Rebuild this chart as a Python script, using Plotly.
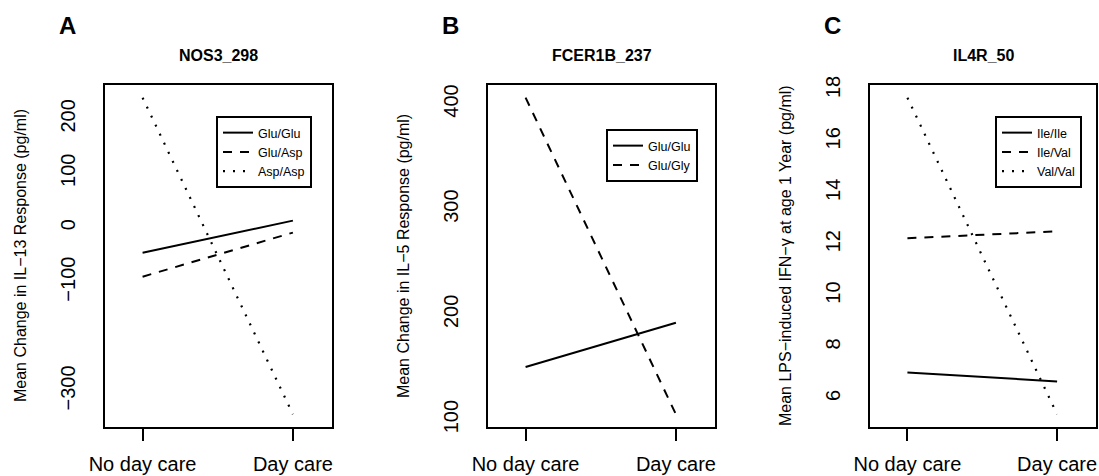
import plotly.graph_objects as go

# ---------------- data ----------------
categories = ["No day care", "Day care"]
x_pos = [1, 2]

a_title = "NOS3_298"
a_names = ["Glu/Glu", "Glu/Asp", "Asp/Asp"]
a_glu_glu = [-46, 13]
a_glu_asp = [-90, -9]
a_asp_asp = [239, -343]
a_ticks = [-300, -100, 0, 100, 200]
a_ylabel = "Mean Change in IL\u221213 Response (pg/ml)"

b_title = "FCER1B_237"
b_names = ["Glu/Glu", "Glu/Gly"]
b_glu_glu = [150, 192]
b_glu_gly = [406, 105]
b_ticks = [100, 200, 300, 400]
b_ylabel = "Mean Change in IL\u22125 Response (pg/ml)"

c_title = "IL4R_50"
c_names = ["Ile/Ile", "Ile/Val", "Val/Val"]
c_ile_ile = [7.01, 6.66]
c_ile_val = [12.23, 12.5]
c_val_val = [17.7, 5.38]
c_ticks = [6, 8, 10, 12, 14, 16, 18]
c_ylabel = "Mean LPS\u2212induced IFN\u2212\u03b3 at age 1 Year (pg/ml)"

letters = ["A", "B", "C"]

# ---------------- layout helpers ----------------
W, H = 1099, 476
FONT = "Liberation Sans, Arial, Helvetica, sans-serif"
boxes = [(105, 332), (488, 715), (870, 1096)]
top_px, bot_px = 85, 427
ydom = [1 - bot_px / H, 1 - top_px / H]

DASHES = ["solid", "9px,8px", "2px,8px"]

fig = go.Figure()

panels = [
    (a_title, a_names, [a_glu_glu, a_glu_asp, a_asp_asp], a_ticks, a_ylabel),
    (b_title, b_names, [b_glu_glu, b_glu_gly], b_ticks, b_ylabel),
    (c_title, c_names, [c_ile_ile, c_ile_val, c_val_val], c_ticks, c_ylabel),
]
legend_pos = [(216, 116), (606, 129), (995, 116)]

for i, (title, names, series, ticks, ylabel) in enumerate(panels):
    k = "" if i == 0 else str(i + 1)
    leg = "legend" if i == 0 else f"legend{i + 1}"
    allv = [v for s in series for v in s]
    lo, hi = min(allv), max(allv)
    span = hi - lo
    for j, (name, vals) in enumerate(zip(names, series)):
        fig.add_trace(go.Scatter(
            x=x_pos, y=vals, mode="lines", name=name,
            line=dict(color="black", width=2.2 if j == 2 else 2, dash=DASHES[j]),
            xaxis="x" + k, yaxis="y" + k, legend=leg, showlegend=True,
        ))
    x0, x1 = boxes[i]
    fig.layout["xaxis" + k] = dict(
        domain=[x0 / W, x1 / W], anchor="y" + k, range=[0.75, 2.26],
        tickvals=x_pos, ticktext=categories, ticks="outside", ticklen=12,
        tickwidth=2, tickcolor="black", showline=True, linecolor="black",
        linewidth=2, mirror=True, showgrid=False, zeroline=False,
        tickfont=dict(family=FONT, size=20, color="black"),
        ticklabelstandoff=6, automargin=False, fixedrange=True,
    )
    fig.layout["yaxis" + k] = dict(
        domain=ydom, anchor="x" + k, range=[lo - 0.04 * span, hi + 0.04 * span],
        tickvals=ticks, ticks="", showline=True, linecolor="black",
        linewidth=2, mirror=True, showgrid=False, zeroline=False,
        tickangle=-90, tickfont=dict(family=FONT, size=20, color="black"),
        ticklabelstandoff=20, automargin=False, fixedrange=True,
    )
    lx, ly = legend_pos[i]
    fig.layout[leg] = dict(
        x=lx / W, y=1 - ly / H, xanchor="left", yanchor="top",
        xref="paper", yref="paper",
        bordercolor="black", borderwidth=2, bgcolor="white",
        font=dict(family=FONT, size=12.5, color="black"),
        tracegroupgap=0, itemwidth=30,
    )
    cx = (x0 + x1) / 2
    fig.add_annotation(text=f"<b>{title}</b>", x=cx / W, y=1 - 55 / H,
                       xref="paper", yref="paper", showarrow=False,
                       xanchor="center", yanchor="middle",
                       font=dict(family=FONT, size=16, color="black"))
    fig.add_annotation(text=f"<b>{letters[i]}</b>", x=(x0 - 38) / W, y=1 - 25 / H,
                       xref="paper", yref="paper", showarrow=False,
                       xanchor="center", yanchor="middle",
                       font=dict(family=FONT, size=24, color="black"))
    fig.add_annotation(text=ylabel, x=(x0 - 85) / W, y=(ydom[0] + ydom[1]) / 2,
                       xref="paper", yref="paper", showarrow=False, textangle=-90,
                       xanchor="center", yanchor="middle",
                       font=dict(family=FONT, size=16, color="black"))

fig.update_layout(
    width=W, height=H, margin=dict(l=0, r=0, t=0, b=0),
    paper_bgcolor="white", plot_bgcolor="white",
    font=dict(family=FONT, color="black"),
)

fig.write_html("out.html", config={"displayModeBar": False},
               post_script="document.body.style.margin='0';document.body.style.overflow='hidden';")
